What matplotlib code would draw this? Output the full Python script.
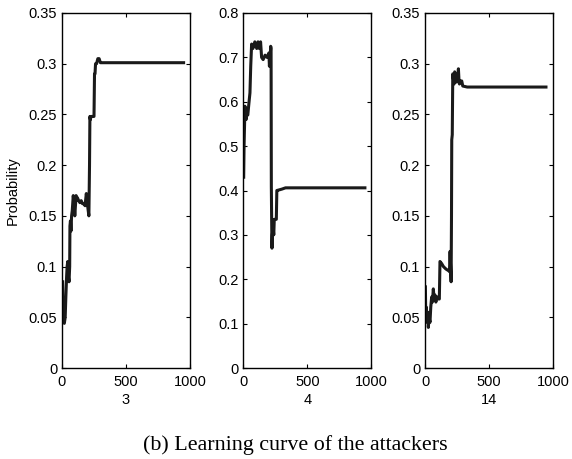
import matplotlib
matplotlib.use("Agg")
import matplotlib.pyplot as plt

# Panel "3"
x3 = [5, 8, 12, 18, 25, 30, 36, 40, 45, 50, 55, 60, 62, 66, 70, 75, 80, 88, 95, 100,
      105, 110, 114, 120, 130, 140, 150, 160, 170, 180, 190, 200, 210, 215, 218, 222,
      226, 240, 250, 254, 258, 262, 270, 280, 290, 300, 310, 320, 330, 400, 500, 600,
      700, 800, 900, 950]
y3 = [0.085, 0.05, 0.045, 0.044, 0.05, 0.07, 0.09, 0.1, 0.105, 0.09, 0.085, 0.1, 0.14,
      0.145, 0.135, 0.15, 0.155, 0.17, 0.16, 0.15, 0.16, 0.17, 0.165, 0.168, 0.165, 0.163,
      0.165, 0.162, 0.162, 0.16, 0.172, 0.16, 0.15, 0.2, 0.248, 0.245, 0.248, 0.248,
      0.248, 0.29, 0.29, 0.3, 0.3, 0.305, 0.305, 0.301, 0.301, 0.301, 0.301, 0.301,
      0.301, 0.301, 0.301, 0.301, 0.301, 0.301]

# Panel "4"
x4 = [3, 6, 10, 13, 18, 22, 26, 35, 45, 52, 58, 65, 75, 90, 105, 115, 125, 135, 143,
      155, 170, 185, 200, 204, 210, 214, 217, 219, 221, 224, 227, 232, 238, 242, 248,
      258, 262, 275, 300, 330, 400, 500, 600, 700, 800, 900, 950]
y4 = [0.43, 0.5, 0.55, 0.59, 0.57, 0.56, 0.575, 0.57, 0.6, 0.62, 0.68, 0.73, 0.72, 0.735,
      0.72, 0.735, 0.72, 0.735, 0.70, 0.695, 0.705, 0.70, 0.71, 0.68, 0.70, 0.725, 0.72,
      0.41, 0.35, 0.27, 0.30, 0.32, 0.30, 0.335, 0.335, 0.335, 0.40, 0.401, 0.403, 0.406,
      0.406, 0.406, 0.406, 0.406, 0.406, 0.406, 0.406]

# Panel "14"
x14 = [3, 6, 10, 13, 18, 22, 26, 32, 39, 45, 52, 58, 65, 70, 78, 85, 91, 100, 108, 112,
       117, 130, 144, 160, 170, 185, 191, 196, 200, 204, 207, 209, 213, 217, 222, 227,
       232, 235, 242, 248, 255, 261, 265, 269, 278, 287, 295, 330, 400, 500, 600, 700,
       800, 900, 945]
y14 = [0.08, 0.05, 0.06, 0.055, 0.045, 0.055, 0.04, 0.05, 0.045, 0.06, 0.07, 0.065,
       0.078, 0.07, 0.072, 0.065, 0.07, 0.07, 0.068, 0.068, 0.105, 0.103, 0.1, 0.098,
       0.097, 0.096, 0.095, 0.115, 0.1, 0.085, 0.15, 0.225, 0.23, 0.29, 0.285, 0.28,
       0.292, 0.29, 0.282, 0.282, 0.285, 0.295, 0.285, 0.28, 0.283, 0.283, 0.278, 0.277,
       0.277, 0.277, 0.277, 0.277, 0.277, 0.277, 0.277]

panels = [
    (x3, y3, "3", 0.35, [0, 0.05, 0.1, 0.15, 0.2, 0.25, 0.3, 0.35],
     ["0", "0.05", "0.1", "0.15", "0.2", "0.25", "0.3", "0.35"]),
    (x4, y4, "4", 0.8, [0, 0.1, 0.2, 0.3, 0.4, 0.5, 0.6, 0.7, 0.8],
     ["0", "0.1", "0.2", "0.3", "0.4", "0.5", "0.6", "0.7", "0.8"]),
    (x14, y14, "14", 0.35, [0, 0.05, 0.1, 0.15, 0.2, 0.25, 0.3, 0.35],
     ["0", "0.05", "0.1", "0.15", "0.2", "0.25", "0.3", "0.35"]),
]
xticks = [0, 500, 1000]
xticklabels = ["0", "500", "1000"]

plt.rcParams['font.family'] = ['Liberation Sans', 'DejaVu Sans']
fig = plt.figure(figsize=(5.72, 4.59), dpi=100)

lefts = [62 / 572, 243.3 / 572, 425 / 572]
width = 128 / 572
bottom = 1 - 368 / 459
height = (368 - 13) / 459
fs = 10.5

for i, (xs, ys, lab, ymax, yt, ytl) in enumerate(panels):
    ax = fig.add_axes([lefts[i], bottom, width, height])
    ax.plot(xs, ys, color="#1a1a1a", linewidth=2.2)
    ax.set_xlim(0, 1000)
    ax.set_ylim(0, ymax)
    ax.set_xticks(xticks)
    ax.set_xticklabels(xticklabels, fontsize=fs)
    ax.set_yticks(yt)
    ax.set_yticklabels(ytl, fontsize=fs)
    ax.tick_params(direction="in", top=True, right=True, length=3, width=0.8)
    ax.tick_params(axis="x", pad=5)
    ax.tick_params(axis="y", pad=3.5)
    for s in ax.spines.values():
        s.set_linewidth(1.0)
    ax.set_xlabel(lab, fontsize=fs, labelpad=3)
    if i == 0:
        ax.set_ylabel("Probability", fontsize=fs, labelpad=6)

fig.text(295 / 572, 1 - 450 / 459, "(b) Learning curve of the attackers",
         family=["Liberation Serif", "DejaVu Serif"], fontsize=15.8,
         ha="center", va="baseline")

fig.savefig("out.png", dpi=100)
